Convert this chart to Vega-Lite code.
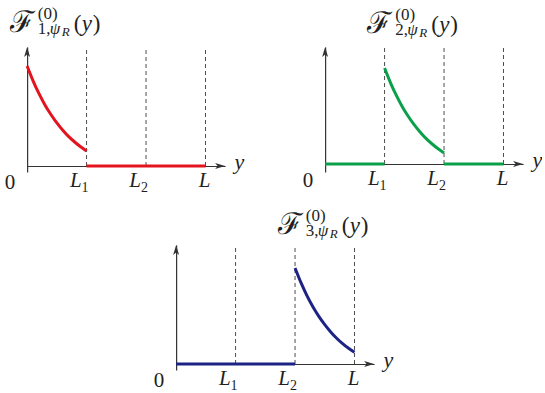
{
  "$schema": "https://vega.github.io/schema/vega-lite/v6.json",
  "autosize": {"type": "pad"},
  "padding": {"left": 4, "top": 5, "right": 0, "bottom": 0},
  "background": "white",
  "center": true,
  "spacing": 11,
  "config": {
    "view": {"stroke": null},
    "axis": {"domain": true, "domainColor": "#333333", "domainWidth": 1.2, "ticks": false, "labels": false, "grid": false}
  },
  "datasets": {
    "curves": [
      {"panel": 1, "x": 0.0, "y": 100}, {"panel": 1, "x": 0.1, "y": 85.2}, {"panel": 1, "x": 0.2, "y": 72.3}, {"panel": 1, "x": 0.3, "y": 61.1}, {"panel": 1, "x": 0.4, "y": 51.5}, {"panel": 1, "x": 0.5, "y": 43.1}, {"panel": 1, "x": 0.6, "y": 35.8}, {"panel": 1, "x": 0.7, "y": 29.4}, {"panel": 1, "x": 0.8, "y": 24.0}, {"panel": 1, "x": 0.9, "y": 19.2}, {"panel": 1, "x": 1.0, "y": 15.1},
      {"panel": 2, "x": 1.0, "y": 96}, {"panel": 2, "x": 1.1, "y": 81.2}, {"panel": 2, "x": 1.2, "y": 68.3}, {"panel": 2, "x": 1.3, "y": 57.1}, {"panel": 2, "x": 1.4, "y": 47.5}, {"panel": 2, "x": 1.5, "y": 39.1}, {"panel": 2, "x": 1.6, "y": 31.8}, {"panel": 2, "x": 1.7, "y": 25.4}, {"panel": 2, "x": 1.8, "y": 20.0}, {"panel": 2, "x": 1.9, "y": 15.2}, {"panel": 2, "x": 2.0, "y": 11.1},
      {"panel": 3, "x": 2.0, "y": 96}, {"panel": 3, "x": 2.1, "y": 81.3}, {"panel": 3, "x": 2.2, "y": 68.4}, {"panel": 3, "x": 2.3, "y": 57.3}, {"panel": 3, "x": 2.4, "y": 47.7}, {"panel": 3, "x": 2.5, "y": 39.4}, {"panel": 3, "x": 2.6, "y": 32.1}, {"panel": 3, "x": 2.7, "y": 25.8}, {"panel": 3, "x": 2.8, "y": 20.4}, {"panel": 3, "x": 2.9, "y": 15.7}, {"panel": 3, "x": 3.0, "y": 11.7}
    ],
    "segments": [
      {"panel": 1, "x": 1, "x2": 3, "y": 0},
      {"panel": 2, "x": 0, "x2": 1, "y": 0},
      {"panel": 2, "x": 2, "x2": 3, "y": 0},
      {"panel": 3, "x": 0, "x2": 2, "y": 0}
    ],
    "dashes": [
      {"x": 1, "y": 0, "y2": 117},
      {"x": 2, "y": 0, "y2": 117},
      {"x": 3, "y": 0, "y2": 117}
    ],
    "arrows": [
      {"panel": 1, "x": 3.33, "y": 0, "dir": "right"}, {"panel": 1, "x": 0, "y": 119, "dir": "up"},
      {"panel": 2, "x": 3.33, "y": 0, "dir": "right"}, {"panel": 2, "x": 0, "y": 117, "dir": "up"},
      {"panel": 3, "x": 3.33, "y": 0, "dir": "right"}, {"panel": 3, "x": 0, "y": 119, "dir": "up"}
    ],
    "ticks": [
      {"x": 0, "y": 0, "main": "0", "sub": ""},
      {"x": 1, "y": 0, "main": "L", "sub": "1"},
      {"x": 2, "y": 0, "main": "L", "sub": "2"},
      {"x": 3, "y": 0, "main": "L", "sub": ""}
    ],
    "titles": [
      {"panel": 1, "x": 0.5, "y": 135, "sub": "1,"},
      {"panel": 2, "x": 1.5, "y": 132, "sub": "2,"},
      {"panel": 3, "x": 2.5, "y": 131, "sub": "3,"}
    ]
  },
  "vconcat": [
    {
      "hconcat": [
        {
          "width": 198, "height": 125,
          "encoding": {
            "x": {"field": "x", "type": "quantitative", "scale": {"domain": [0, 3.33], "nice": false, "zero": false}, "axis": {"title": "y", "offset": -6, "titleFont": "Liberation Serif", "titleFontSize": 22, "titleFontStyle": "italic", "titleFontWeight": "normal", "titleColor": "#231f20", "titleAlign": "left", "titleBaseline": "alphabetic", "titleX": 207, "titleY": 2}},
            "y": {"field": "y", "type": "quantitative", "scale": {"domain": [-6, 119], "nice": false, "zero": false}, "axis": {"title": null}}
          },
          "layer": [
            {"data": {"name": "dashes"}, "mark": {"type": "rule", "color": "#4d4d4d", "strokeWidth": 1, "strokeDash": [4, 3]}, "encoding": {"y2": {"field": "y2"}}},
            {"data": {"name": "segments"}, "transform": [{"filter": "datum.panel == 1"}], "mark": {"type": "rule", "color": "#e3141e", "strokeWidth": 3}, "encoding": {"x2": {"field": "x2"}}},
            {"data": {"name": "curves"}, "transform": [{"filter": "datum.panel == 1"}], "mark": {"type": "line", "color": "#e3141e", "strokeWidth": 3, "interpolate": "monotone"}},
            {"data": {"name": "arrows"}, "transform": [{"filter": "datum.panel == 1 && datum.dir == 'right'"}], "mark": {"type": "point", "shape": "M1,0L-1,-0.6L-0.5,0L-1,0.6Z", "size": 100, "filled": true, "opacity": 1, "color": "#333333", "xOffset": -5}},
            {"data": {"name": "arrows"}, "transform": [{"filter": "datum.panel == 1 && datum.dir == 'up'"}], "mark": {"type": "point", "shape": "M0,-1L0.6,1L0,0.5L-0.6,1Z", "size": 100, "filled": true, "opacity": 1, "color": "#333333", "yOffset": 5}},
            {"data": {"name": "ticks"}, "transform": [{"filter": "datum.sub != ''"}], "mark": {"type": "text", "font": "Liberation Serif", "baseline": "alphabetic", "color": "#231f20", "fontSize": 21, "fontStyle": "italic", "align": "right", "dx": -5, "dy": 21}, "encoding": {"text": {"field": "main"}}},
            {"data": {"name": "ticks"}, "transform": [{"filter": "datum.sub != ''"}], "mark": {"type": "text", "font": "Liberation Serif", "baseline": "alphabetic", "color": "#231f20", "fontSize": 14, "align": "left", "dx": -5, "dy": 26}, "encoding": {"text": {"field": "sub"}}},
            {"data": {"name": "ticks"}, "transform": [{"filter": "datum.main == 'L' && datum.sub == ''"}], "mark": {"type": "text", "font": "Liberation Serif", "baseline": "alphabetic", "color": "#231f20", "fontSize": 21, "fontStyle": "italic", "align": "center", "dx": -1, "dy": 21}, "encoding": {"text": {"field": "main"}}},
            {"data": {"name": "ticks"}, "transform": [{"filter": "datum.main == '0'"}], "mark": {"type": "text", "font": "Liberation Serif", "baseline": "alphabetic", "color": "#231f20", "fontSize": 21, "align": "center", "dx": -17, "dy": 23}, "encoding": {"text": {"field": "main"}}},
            {"data": {"name": "titles"}, "transform": [{"filter": "datum.panel == 1"}], "mark": {"type": "text", "font": "DejaVu Serif", "baseline": "alphabetic", "color": "#231f20", "fontSize": 30, "align": "left", "dx": -47, "dy": 1}, "encoding": {"text": {"value": "ℱ"}}},
            {"data": {"name": "titles"}, "transform": [{"filter": "datum.panel == 1"}], "mark": {"type": "text", "font": "Liberation Serif", "baseline": "alphabetic", "color": "#231f20", "fontSize": 17, "align": "left", "dx": -19, "dy": -12}, "encoding": {"text": {"value": "(0)"}}},
            {"data": {"name": "titles"}, "transform": [{"filter": "datum.panel == 1"}], "mark": {"type": "text", "font": "Liberation Serif", "baseline": "alphabetic", "color": "#231f20", "fontSize": 17, "align": "left", "dx": -19, "dy": 3}, "encoding": {"text": {"field": "sub"}}},
            {"data": {"name": "titles"}, "transform": [{"filter": "datum.panel == 1"}], "mark": {"type": "text", "font": "Liberation Serif", "baseline": "alphabetic", "color": "#231f20", "fontSize": 17, "fontStyle": "italic", "align": "left", "dx": -7, "dy": 3}, "encoding": {"text": {"value": "ψ"}}},
            {"data": {"name": "titles"}, "transform": [{"filter": "datum.panel == 1"}], "mark": {"type": "text", "font": "Liberation Serif", "baseline": "alphabetic", "color": "#231f20", "fontSize": 13, "fontStyle": "italic", "align": "left", "dx": 5, "dy": 5}, "encoding": {"text": {"value": "R"}}},
            {"data": {"name": "titles"}, "transform": [{"filter": "datum.panel == 1"}], "mark": {"type": "text", "font": "Liberation Serif", "baseline": "alphabetic", "color": "#231f20", "fontSize": 23, "align": "left", "dx": 17, "dy": 0}, "encoding": {"text": {"value": "("}}},
            {"data": {"name": "titles"}, "transform": [{"filter": "datum.panel == 1"}], "mark": {"type": "text", "font": "Liberation Serif", "baseline": "alphabetic", "color": "#231f20", "fontSize": 23, "fontStyle": "italic", "align": "left", "dx": 25, "dy": 0}, "encoding": {"text": {"value": "y"}}},
            {"data": {"name": "titles"}, "transform": [{"filter": "datum.panel == 1"}], "mark": {"type": "text", "font": "Liberation Serif", "baseline": "alphabetic", "color": "#231f20", "fontSize": 23, "align": "left", "dx": 36, "dy": 0}, "encoding": {"text": {"value": ")"}}}
          ]
        },
        {
          "width": 198, "height": 125,
          "encoding": {
            "x": {"field": "x", "type": "quantitative", "scale": {"domain": [0, 3.33], "nice": false, "zero": false}, "axis": {"title": "y", "offset": -8, "titleFont": "Liberation Serif", "titleFontSize": 22, "titleFontStyle": "italic", "titleFontWeight": "normal", "titleColor": "#231f20", "titleAlign": "left", "titleBaseline": "alphabetic", "titleX": 207, "titleY": 2}},
            "y": {"field": "y", "type": "quantitative", "scale": {"domain": [-8, 117], "nice": false, "zero": false}, "axis": {"title": null}}
          },
          "layer": [
            {"data": {"name": "dashes"}, "mark": {"type": "rule", "color": "#4d4d4d", "strokeWidth": 1, "strokeDash": [4, 3]}, "encoding": {"y2": {"field": "y2"}}},
            {"data": {"name": "segments"}, "transform": [{"filter": "datum.panel == 2"}], "mark": {"type": "rule", "color": "#0aa04a", "strokeWidth": 3}, "encoding": {"x2": {"field": "x2"}}},
            {"data": {"name": "curves"}, "transform": [{"filter": "datum.panel == 2"}], "mark": {"type": "line", "color": "#0aa04a", "strokeWidth": 3, "interpolate": "monotone"}},
            {"data": {"name": "arrows"}, "transform": [{"filter": "datum.panel == 2 && datum.dir == 'right'"}], "mark": {"type": "point", "shape": "M1,0L-1,-0.6L-0.5,0L-1,0.6Z", "size": 100, "filled": true, "opacity": 1, "color": "#333333", "xOffset": -5}},
            {"data": {"name": "arrows"}, "transform": [{"filter": "datum.panel == 2 && datum.dir == 'up'"}], "mark": {"type": "point", "shape": "M0,-1L0.6,1L0,0.5L-0.6,1Z", "size": 100, "filled": true, "opacity": 1, "color": "#333333", "yOffset": 5}},
            {"data": {"name": "ticks"}, "transform": [{"filter": "datum.sub != ''"}], "mark": {"type": "text", "font": "Liberation Serif", "baseline": "alphabetic", "color": "#231f20", "fontSize": 21, "fontStyle": "italic", "align": "right", "dx": -5, "dy": 21}, "encoding": {"text": {"field": "main"}}},
            {"data": {"name": "ticks"}, "transform": [{"filter": "datum.sub != ''"}], "mark": {"type": "text", "font": "Liberation Serif", "baseline": "alphabetic", "color": "#231f20", "fontSize": 14, "align": "left", "dx": -5, "dy": 26}, "encoding": {"text": {"field": "sub"}}},
            {"data": {"name": "ticks"}, "transform": [{"filter": "datum.main == 'L' && datum.sub == ''"}], "mark": {"type": "text", "font": "Liberation Serif", "baseline": "alphabetic", "color": "#231f20", "fontSize": 21, "fontStyle": "italic", "align": "center", "dx": -1, "dy": 21}, "encoding": {"text": {"field": "main"}}},
            {"data": {"name": "ticks"}, "transform": [{"filter": "datum.main == '0'"}], "mark": {"type": "text", "font": "Liberation Serif", "baseline": "alphabetic", "color": "#231f20", "fontSize": 21, "align": "center", "dx": -17, "dy": 23}, "encoding": {"text": {"field": "main"}}},
            {"data": {"name": "titles"}, "transform": [{"filter": "datum.panel == 2"}], "mark": {"type": "text", "font": "DejaVu Serif", "baseline": "alphabetic", "color": "#231f20", "fontSize": 30, "align": "left", "dx": -47, "dy": 1}, "encoding": {"text": {"value": "ℱ"}}},
            {"data": {"name": "titles"}, "transform": [{"filter": "datum.panel == 2"}], "mark": {"type": "text", "font": "Liberation Serif", "baseline": "alphabetic", "color": "#231f20", "fontSize": 17, "align": "left", "dx": -19, "dy": -12}, "encoding": {"text": {"value": "(0)"}}},
            {"data": {"name": "titles"}, "transform": [{"filter": "datum.panel == 2"}], "mark": {"type": "text", "font": "Liberation Serif", "baseline": "alphabetic", "color": "#231f20", "fontSize": 17, "align": "left", "dx": -19, "dy": 3}, "encoding": {"text": {"field": "sub"}}},
            {"data": {"name": "titles"}, "transform": [{"filter": "datum.panel == 2"}], "mark": {"type": "text", "font": "Liberation Serif", "baseline": "alphabetic", "color": "#231f20", "fontSize": 17, "fontStyle": "italic", "align": "left", "dx": -7, "dy": 3}, "encoding": {"text": {"value": "ψ"}}},
            {"data": {"name": "titles"}, "transform": [{"filter": "datum.panel == 2"}], "mark": {"type": "text", "font": "Liberation Serif", "baseline": "alphabetic", "color": "#231f20", "fontSize": 13, "fontStyle": "italic", "align": "left", "dx": 5, "dy": 5}, "encoding": {"text": {"value": "R"}}},
            {"data": {"name": "titles"}, "transform": [{"filter": "datum.panel == 2"}], "mark": {"type": "text", "font": "Liberation Serif", "baseline": "alphabetic", "color": "#231f20", "fontSize": 23, "align": "left", "dx": 17, "dy": 0}, "encoding": {"text": {"value": "("}}},
            {"data": {"name": "titles"}, "transform": [{"filter": "datum.panel == 2"}], "mark": {"type": "text", "font": "Liberation Serif", "baseline": "alphabetic", "color": "#231f20", "fontSize": 23, "fontStyle": "italic", "align": "left", "dx": 25, "dy": 0}, "encoding": {"text": {"value": "y"}}},
            {"data": {"name": "titles"}, "transform": [{"filter": "datum.panel == 2"}], "mark": {"type": "text", "font": "Liberation Serif", "baseline": "alphabetic", "color": "#231f20", "fontSize": 23, "align": "left", "dx": 36, "dy": 0}, "encoding": {"text": {"value": ")"}}}
          ]
        }
      ],
      "spacing": 100,
      "bounds": "flush"
    },
    {
      "width": 198, "height": 125,
      "encoding": {
        "x": {"field": "x", "type": "quantitative", "scale": {"domain": [0, 3.33], "nice": false, "zero": false}, "axis": {"title": "y", "offset": -6, "titleFont": "Liberation Serif", "titleFontSize": 22, "titleFontStyle": "italic", "titleFontWeight": "normal", "titleColor": "#231f20", "titleAlign": "left", "titleBaseline": "alphabetic", "titleX": 207, "titleY": 2}},
        "y": {"field": "y", "type": "quantitative", "scale": {"domain": [-6, 119], "nice": false, "zero": false}, "axis": {"title": null}}
      },
      "layer": [
        {"data": {"name": "dashes"}, "mark": {"type": "rule", "color": "#4d4d4d", "strokeWidth": 1, "strokeDash": [4, 3]}, "encoding": {"y2": {"field": "y2"}}},
        {"data": {"name": "segments"}, "transform": [{"filter": "datum.panel == 3"}], "mark": {"type": "rule", "color": "#1d2385", "strokeWidth": 3}, "encoding": {"x2": {"field": "x2"}}},
        {"data": {"name": "curves"}, "transform": [{"filter": "datum.panel == 3"}], "mark": {"type": "line", "color": "#1d2385", "strokeWidth": 3, "interpolate": "monotone"}},
        {"data": {"name": "arrows"}, "transform": [{"filter": "datum.panel == 3 && datum.dir == 'right'"}], "mark": {"type": "point", "shape": "M1,0L-1,-0.6L-0.5,0L-1,0.6Z", "size": 100, "filled": true, "opacity": 1, "color": "#333333", "xOffset": -5}},
        {"data": {"name": "arrows"}, "transform": [{"filter": "datum.panel == 3 && datum.dir == 'up'"}], "mark": {"type": "point", "shape": "M0,-1L0.6,1L0,0.5L-0.6,1Z", "size": 100, "filled": true, "opacity": 1, "color": "#333333", "yOffset": 5}},
        {"data": {"name": "ticks"}, "transform": [{"filter": "datum.sub != ''"}], "mark": {"type": "text", "font": "Liberation Serif", "baseline": "alphabetic", "color": "#231f20", "fontSize": 21, "fontStyle": "italic", "align": "right", "dx": -5, "dy": 21}, "encoding": {"text": {"field": "main"}}},
        {"data": {"name": "ticks"}, "transform": [{"filter": "datum.sub != ''"}], "mark": {"type": "text", "font": "Liberation Serif", "baseline": "alphabetic", "color": "#231f20", "fontSize": 14, "align": "left", "dx": -5, "dy": 26}, "encoding": {"text": {"field": "sub"}}},
        {"data": {"name": "ticks"}, "transform": [{"filter": "datum.main == 'L' && datum.sub == ''"}], "mark": {"type": "text", "font": "Liberation Serif", "baseline": "alphabetic", "color": "#231f20", "fontSize": 21, "fontStyle": "italic", "align": "center", "dx": -1, "dy": 21}, "encoding": {"text": {"field": "main"}}},
        {"data": {"name": "ticks"}, "transform": [{"filter": "datum.main == '0'"}], "mark": {"type": "text", "font": "Liberation Serif", "baseline": "alphabetic", "color": "#231f20", "fontSize": 21, "align": "center", "dx": -17, "dy": 23}, "encoding": {"text": {"field": "main"}}},
        {"data": {"name": "titles"}, "transform": [{"filter": "datum.panel == 3"}], "mark": {"type": "text", "font": "DejaVu Serif", "baseline": "alphabetic", "color": "#231f20", "fontSize": 30, "align": "left", "dx": -47, "dy": 1}, "encoding": {"text": {"value": "ℱ"}}},
        {"data": {"name": "titles"}, "transform": [{"filter": "datum.panel == 3"}], "mark": {"type": "text", "font": "Liberation Serif", "baseline": "alphabetic", "color": "#231f20", "fontSize": 17, "align": "left", "dx": -19, "dy": -12}, "encoding": {"text": {"value": "(0)"}}},
        {"data": {"name": "titles"}, "transform": [{"filter": "datum.panel == 3"}], "mark": {"type": "text", "font": "Liberation Serif", "baseline": "alphabetic", "color": "#231f20", "fontSize": 17, "align": "left", "dx": -19, "dy": 3}, "encoding": {"text": {"field": "sub"}}},
        {"data": {"name": "titles"}, "transform": [{"filter": "datum.panel == 3"}], "mark": {"type": "text", "font": "Liberation Serif", "baseline": "alphabetic", "color": "#231f20", "fontSize": 17, "fontStyle": "italic", "align": "left", "dx": -7, "dy": 3}, "encoding": {"text": {"value": "ψ"}}},
        {"data": {"name": "titles"}, "transform": [{"filter": "datum.panel == 3"}], "mark": {"type": "text", "font": "Liberation Serif", "baseline": "alphabetic", "color": "#231f20", "fontSize": 13, "fontStyle": "italic", "align": "left", "dx": 5, "dy": 5}, "encoding": {"text": {"value": "R"}}},
        {"data": {"name": "titles"}, "transform": [{"filter": "datum.panel == 3"}], "mark": {"type": "text", "font": "Liberation Serif", "baseline": "alphabetic", "color": "#231f20", "fontSize": 23, "align": "left", "dx": 17, "dy": 0}, "encoding": {"text": {"value": "("}}},
        {"data": {"name": "titles"}, "transform": [{"filter": "datum.panel == 3"}], "mark": {"type": "text", "font": "Liberation Serif", "baseline": "alphabetic", "color": "#231f20", "fontSize": 23, "fontStyle": "italic", "align": "left", "dx": 25, "dy": 0}, "encoding": {"text": {"value": "y"}}},
        {"data": {"name": "titles"}, "transform": [{"filter": "datum.panel == 3"}], "mark": {"type": "text", "font": "Liberation Serif", "baseline": "alphabetic", "color": "#231f20", "fontSize": 23, "align": "left", "dx": 36, "dy": 0}, "encoding": {"text": {"value": ")"}}}
      ]
    }
  ]
}
